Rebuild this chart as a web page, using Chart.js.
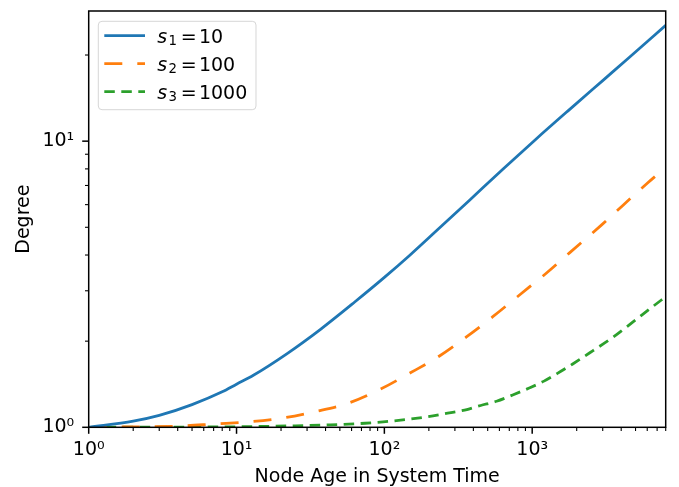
<!DOCTYPE html>
<html>
<head>
<meta charset="utf-8">
<script src="https://cdn.jsdelivr.net/npm/chart.js@4"></script>
<style>
  html, body { margin: 0; padding: 0; background: #fff; }
</style>
</head>
<body>
<canvas id="chart" width="679" height="487"></canvas>
<script>
// Degree vs node age (log-log)
const ageS1 = [1, 2, 3, 5, 8, 10, 13, 22, 37, 63, 100, 150, 224, 377, 633, 1064, 1786, 3000, 4430, 8000];
const degS1 = [1.0, 1.05, 1.10, 1.20, 1.33, 1.415, 1.52, 1.81, 2.20, 2.74, 3.34, 4.01, 4.85, 6.22, 7.98, 10.18, 12.89, 16.28, 19.4, 25.4];

const ageS2 = [1, 2.5, 4.2, 7.1, 12, 20.6, 34, 56, 93, 150, 236, 359, 539, 821, 1250, 1788, 2950, 4085, 6030, 8000];
const degS2 = [1.0, 1.005, 1.01, 1.027, 1.044, 1.078, 1.135, 1.21, 1.355, 1.55, 1.775, 2.07, 2.43, 2.90, 3.46, 4.07, 5.10, 5.95, 7.14, 8.1];

const ageS3 = [1, 10, 25, 43, 74, 98, 197, 268, 349, 448, 574, 738, 946, 1202, 1472, 1880, 2567, 3505, 4786, 6530, 8000];
const degS3 = [1.0, 1.004, 1.012, 1.02, 1.033, 1.044, 1.089, 1.12, 1.149, 1.192, 1.233, 1.297, 1.369, 1.45, 1.54, 1.665, 1.85, 2.06, 2.33, 2.64, 2.86];

const seriesLabels = ['s₁ = 10', 's₂ = 100', 's₃ = 1000'];

const xTicks = [1, 2, 3, 4, 5, 6, 7, 8, 9, 10, 20, 30, 40, 50, 60, 70, 80, 90,
  100, 200, 300, 400, 500, 600, 700, 800, 900, 1000, 2000, 3000, 4000, 5000, 6000, 7000, 8000];
const yTicks = [1, 2, 3, 4, 5, 6, 7, 8, 9, 10, 20];

const SUP = { '0': '⁰', '1': '¹', '2': '²', '3': '³', '4': '⁴' };
const SUB = { '₁': '1', '₂': '2', '₃': '3' };

function isPow10(v) {
  const e = Math.log10(v);
  return Math.abs(e - Math.round(e)) < 1e-9;
}

function powLabel(v) {
  if (!isPow10(v)) return '';
  return '10' + SUP[String(Math.round(Math.log10(v)))];
}

function toPoints(xs, ys) {
  return xs.map((x, i) => ({ x, y: ys[i] }));
}

const FONT = 19;

Chart.defaults.font.family = "'DejaVu Sans', sans-serif";
Chart.defaults.font.size = FONT;
Chart.defaults.color = '#000';

// box, ticks (major + minor) and the legend, matplotlib style
const axesDecor = {
  id: 'axesDecor',
  afterDatasetsDraw(chart) {
    const { ctx, chartArea: ca, scales } = chart;
    ctx.save();

    // legend
    const lx = ca.left + 9.6, ly = ca.top + 10.3;
    ctx.beginPath();
    ctx.roundRect(lx, ly, 157.7, 88.4, 3.7);
    ctx.fillStyle = 'rgba(255,255,255,0.8)';
    ctx.fill();
    ctx.strokeStyle = 'rgba(204,204,204,0.8)';
    ctx.lineWidth = 1;
    ctx.stroke();

    chart.data.datasets.forEach((ds, i) => {
      const rowY = ca.top + 24.7 + i * 28;
      ctx.beginPath();
      ctx.setLineDash(ds.borderDash || []);
      ctx.lineDashOffset = 0;
      ctx.lineCap = 'butt';
      ctx.strokeStyle = ds.borderColor;
      ctx.lineWidth = ds.borderWidth;
      ctx.moveTo(ca.left + 15.6, rowY);
      ctx.lineTo(ca.left + 56.3, rowY);
      ctx.stroke();
      ctx.setLineDash([]);

      // "s_k = N": italic s, subscript index, then the value
      const label = ds.label;
      const base = ca.top + 32 + i * 28;
      const x0 = ca.left + 68.6;
      ctx.fillStyle = '#000';
      ctx.textBaseline = 'alphabetic';
      ctx.textAlign = 'left';
      ctx.font = `italic ${FONT}px 'DejaVu Sans'`;
      ctx.fillText(label[0], x0, base);
      ctx.font = `${FONT * 0.7}px 'DejaVu Sans'`;
      ctx.fillText(SUB[label[1]] || label[1], x0 + 11.2, base + 1.8);
      ctx.font = `${FONT}px 'DejaVu Sans'`;
      ctx.fillText('=', x0 + 23.4, base);
      ctx.fillText(label.slice(label.indexOf('=') + 1).trim(), x0 + 41.6, base);
    });

    // frame
    ctx.strokeStyle = '#000';
    ctx.lineWidth = 1.5;
    ctx.strokeRect(ca.left, ca.top, ca.right - ca.left, ca.bottom - ca.top);

    // ticks
    const xs = scales.x, ys = scales.y;
    xs.ticks.forEach(t => {
      const p = xs.getPixelForValue(t.value);
      const major = isPow10(t.value);
      ctx.lineWidth = major ? 1.5 : 1.1;
      ctx.beginPath();
      ctx.moveTo(p, ca.bottom);
      ctx.lineTo(p, ca.bottom + (major ? 6.5 : 3.7));
      ctx.stroke();
    });
    ys.ticks.forEach(t => {
      const p = ys.getPixelForValue(t.value);
      const major = isPow10(t.value);
      ctx.lineWidth = major ? 1.5 : 1.1;
      ctx.beginPath();
      ctx.moveTo(ca.left, p);
      ctx.lineTo(ca.left - (major ? 6.5 : 3.7), p);
      ctx.stroke();
    });
    ctx.restore();
  }
};

const lineStyle = {
  pointRadius: 0,
  borderWidth: 2.8,
  fill: false,
  borderCapStyle: 'butt',
  cubicInterpolationMode: 'monotone',
};

new Chart(document.getElementById('chart'), {
  type: 'line',
  data: {
    datasets: [
      { ...lineStyle, label: seriesLabels[0], data: toPoints(ageS1, degS1), borderColor: '#1f77b4' },
      { ...lineStyle, label: seriesLabels[1], data: toPoints(ageS2, degS2), borderColor: '#ff7f0e', borderDash: [18, 15] },
      { ...lineStyle, label: seriesLabels[2], data: toPoints(ageS3, degS3), borderColor: '#2ca02c', borderDash: [10.5, 6.5] },
    ],
  },
  options: {
    responsive: false,
    animation: false,
    devicePixelRatio: 1,
    layout: { padding: { top: 11, right: 13.3, left: 0, bottom: 0 } },
    plugins: {
      legend: { display: false },
      tooltip: { enabled: false },
    },
    scales: {
      x: {
        type: 'logarithmic',
        min: 1,
        max: 8000,
        border: { display: false },
        grid: { drawOnChartArea: false, drawTicks: true, tickLength: 13, tickColor: 'rgba(0,0,0,0)' },
        ticks: { autoSkip: false, maxRotation: 0, padding: 0, font: { lineHeight: 1 }, callback: v => powLabel(v) },
        afterBuildTicks: s => { s.ticks = xTicks.map(v => ({ value: v })); },
        afterFit: s => { s.height = 59.7; },
        title: {
          display: true,
          text: 'Node Age in System Time',
          font: { size: FONT, lineHeight: 1 },
          padding: { top: 0, bottom: 0.5 },
        },
      },
      y: {
        type: 'logarithmic',
        min: 1,
        max: 28.5,
        border: { display: false },
        grid: { drawOnChartArea: false, drawTicks: true, tickLength: 14.5, tickColor: 'rgba(0,0,0,0)' },
        ticks: { autoSkip: false, padding: 0, font: { lineHeight: 1 }, callback: v => powLabel(v) },
        afterBuildTicks: s => { s.ticks = yTicks.map(v => ({ value: v })); },
        afterFit: s => { s.width = 88.7; },
        title: {
          display: true,
          text: 'Degree',
          font: { size: FONT, lineHeight: 1 },
          padding: { top: 15, bottom: 0 },
        },
      },
    },
  },
  plugins: [axesDecor],
});
</script>
</body>
</html>
